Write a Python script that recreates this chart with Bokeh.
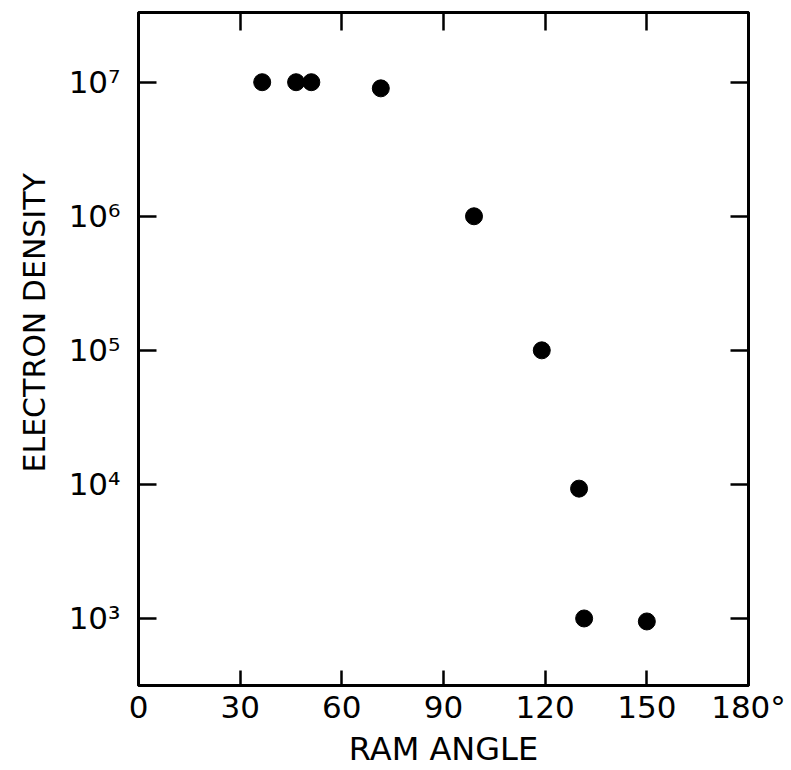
from bokeh.plotting import figure
from bokeh.models import (FixedTicker, LinearAxis, LogAxis, CustomJSTickFormatter,
                          Title, ColumnDataSource)
from bokeh.embed import file_html
from bokeh.resources import INLINE

# ---- data ----
ram_angle = [36.5, 46.5, 51, 71.5, 99, 119, 130, 131.5, 150]
electron_density = [1e7, 1e7, 1e7, 9e6, 1e6, 1e5, 9.3e3, 1e3, 950]
x_ticks = [0, 30, 60, 90, 120, 150, 180]
x_inner_ticks = [30, 60, 90, 120, 150]
y_ticks = [1e3, 1e4, 1e5, 1e6, 1e7]
x_title = "RAM ANGLE"
y_title = "ELECTRON DENSITY"

FONT = "DejaVu Sans"

p = figure(width=791, height=770, y_axis_type="log",
           x_range=(0, 180), y_range=(10 ** 2.5, 10 ** 7.52),
           output_backend="svg", toolbar_location=None, title=None,
           min_border_left=138, min_border_right=43,
           min_border_top=12, min_border_bottom=85)

p.grid.visible = False
p.outline_line_color = "black"
p.outline_line_width = 3
p.background_fill_color = "white"
p.border_fill_color = "white"

src = ColumnDataSource(dict(x=ram_angle, y=electron_density))
p.scatter("x", "y", source=src, size=17, color="black")

sup_code = """
const sup = {2:"\u00b2",3:"\u00b3",4:"\u2074",5:"\u2075",6:"\u2076",7:"\u2077",8:"\u2078"};
const e = Math.round(Math.log10(tick));
return "10" + sup[e];
"""

def style_axis(ax, tick_in):
    ax.major_tick_in = tick_in
    ax.major_tick_out = 0
    ax.minor_tick_in = 0
    ax.minor_tick_out = 0
    ax.axis_line_width = 3
    ax.axis_line_color = "black"
    ax.major_tick_line_width = 2.5
    ax.major_tick_line_color = "black"
    ax.major_label_text_font = FONT
    ax.major_label_text_font_size = "31px"
    ax.major_label_text_color = "black"

# bottom axis
xa = p.xaxis[0]
xa.ticker = FixedTicker(ticks=x_ticks)
style_axis(xa, 15)
xa.major_label_standoff = 3
xa.major_label_overrides = {180: "180\u00b0"}
xa.axis_label = x_title
xa.axis_label_text_font = FONT
xa.axis_label_text_font_size = "32px"
xa.axis_label_text_font_style = "normal"
xa.axis_label_text_color = "black"
xa.axis_label_standoff = 2

# left axis
ya = p.yaxis[0]
ya.ticker = FixedTicker(ticks=y_ticks)
style_axis(ya, 18)
ya.formatter = CustomJSTickFormatter(code=sup_code)
ya.major_label_standoff = 18

blank = CustomJSTickFormatter(code='return "";')

# top axis
ta = LinearAxis(ticker=FixedTicker(ticks=x_inner_ticks), formatter=blank)
style_axis(ta, 18)
ta.major_label_standoff = 0
p.add_layout(ta, "above")

# right axis
ra = LogAxis(ticker=FixedTicker(ticks=y_ticks), formatter=blank)
style_axis(ra, 18)
ra.major_label_standoff = 0
p.add_layout(ra, "right")

# y axis title as a side title (placed like the reference)
yt = Title(text=y_title, align="left", offset=213, standoff=27,
           text_font=FONT, text_font_size="30px", text_font_style="normal",
           text_color="black")
p.add_layout(yt, "left")

open("out.html", "w").write(file_html(p, INLINE))
